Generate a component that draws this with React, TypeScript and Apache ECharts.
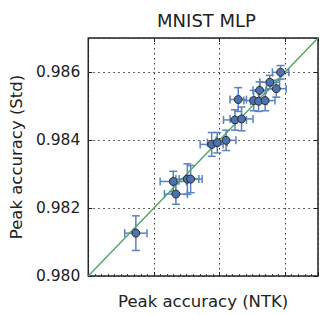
import React, { useEffect, useRef } from "react";
import * as echarts from "echarts";

const title = "MNIST MLP";
const xName = "Peak accuracy (NTK)";
const yName = "Peak accuracy (Std)";
const axisMin = 0.98;
const axisMax = 0.987;
const tickStep = 0.002;

// Peak accuracy with NTK parameterisation (x), standard (y), and their error half-widths
const ntkAcc = [0.98586, 0.98553, 0.98573, 0.98522, 0.98457, 0.98504, 0.98519, 0.98539, 0.98447, 0.98467, 0.98376, 0.98393, 0.9842, 0.98259, 0.98267, 0.98302, 0.98312, 0.98145];
const stdAcc = [0.98599, 0.9857, 0.98551, 0.98546, 0.98519, 0.98516, 0.98514, 0.98516, 0.98459, 0.98462, 0.98387, 0.98392, 0.98399, 0.98278, 0.98241, 0.98285, 0.98285, 0.98126];
const ntkErr = [0.00025, 0.0003, 0.0003, 0.0002, 0.00025, 0.0003, 0.00025, 0.0003, 0.00035, 0.00035, 0.00035, 0.0003, 0.0003, 0.0004, 0.00035, 0.00035, 0.00035, 0.00034];
const stdErr = [0.0002, 0.0002, 0.00025, 0.00025, 0.00035, 0.0003, 0.0003, 0.0003, 0.0003, 0.00035, 0.00035, 0.0003, 0.0003, 0.0003, 0.0003, 0.00045, 0.0004, 0.00051];

const FONT = "DejaVu Sans";

export default function App() {
  const ref = useRef<HTMLDivElement>(null);
  useEffect(() => {
    const chart = echarts.init(ref.current!, null, { renderer: "svg" });
    const errData = ntkAcc.map((x, i) => [x, stdAcc[i], ntkErr[i], stdErr[i]]);
    const pts = ntkAcc.map((x, i) => [x, stdAcc[i]]);
    const barColor = "#5a82c2";
    chart.setOption({
      animation: false,
      title: {
        text: title,
        left: 201.5,
        textAlign: "center",
        top: 6,
        textStyle: { fontFamily: FONT, fontSize: 18, fontWeight: "normal", color: "#222" },
      },
      grid: {
        left: 85,
        right: 9,
        top: 38,
        bottom: 38,
        show: true,
        borderColor: "#222",
        borderWidth: 1.5,
        backgroundColor: "#fff",
      },
      xAxis: [
        {
          type: "value",
          min: axisMin,
          max: axisMax,
          interval: tickStep,
          name: xName,
          nameLocation: "middle",
          nameGap: 17,
          nameTextStyle: { fontFamily: FONT, fontSize: 16.5, color: "#222" },
          axisLine: { show: false },
          axisTick: { show: true, inside: true, length: 4, lineStyle: { color: "#222", width: 1 } },
          minorTick: { show: true, splitNumber: 10, length: 2, lineStyle: { color: "#222", width: 0.8 } },
          axisLabel: { show: false },
          splitLine: { show: true, lineStyle: { color: "#333", type: [1.5, 3.5], width: 1 } },
        },
        {
          type: "value",
          position: "top",
          min: axisMin,
          max: axisMax,
          interval: tickStep,
          axisLine: { show: false },
          axisTick: { show: true, inside: true, length: 4, lineStyle: { color: "#222", width: 1 } },
          axisLabel: { show: false },
          splitLine: { show: false },
        },
      ],
      yAxis: [
        {
          type: "value",
          min: axisMin,
          max: axisMax,
          interval: tickStep,
          name: yName,
          nameLocation: "middle",
          nameGap: 62,
          nameTextStyle: { fontFamily: FONT, fontSize: 16.5, color: "#222" },
          axisLine: { show: false },
          axisTick: { show: true, inside: true, length: 4, lineStyle: { color: "#222", width: 1 } },
          axisLabel: {
            show: true,
            fontFamily: FONT,
            fontSize: 15.5,
            color: "#222",
            margin: 8,
            showMaxLabel: false,
            formatter: (v: number) => v.toFixed(3),
          },
          splitLine: { show: true, lineStyle: { color: "#333", type: [1.5, 3.5], width: 1 } },
        },
        {
          type: "value",
          position: "right",
          min: axisMin,
          max: axisMax,
          interval: tickStep,
          axisLine: { show: false },
          axisTick: { show: true, inside: true, length: 4, lineStyle: { color: "#222", width: 1 } },
          axisLabel: { show: false },
          splitLine: { show: false },
        },
      ],
      series: [
        {
          type: "custom",
          xAxisIndex: 0,
          yAxisIndex: 0,
          z: 2,
          data: errData,
          renderItem: (params: any, api: any) => {
            const x = api.value(0);
            const y = api.value(1);
            const ex = api.value(2);
            const ey = api.value(3);
            const l = api.coord([x - ex, y]);
            const r = api.coord([x + ex, y]);
            const t = api.coord([x, y + ey]);
            const b = api.coord([x, y - ey]);
            const cap = 4;
            const style = { stroke: barColor, lineWidth: 1.5, fill: "none" };
            return {
              type: "group",
              children: [
                { type: "line", shape: { x1: l[0], y1: l[1], x2: r[0], y2: r[1] }, style },
                { type: "line", shape: { x1: t[0], y1: t[1], x2: b[0], y2: b[1] }, style },
                { type: "line", shape: { x1: l[0], y1: l[1] - cap, x2: l[0], y2: l[1] + cap }, style },
                { type: "line", shape: { x1: r[0], y1: r[1] - cap, x2: r[0], y2: r[1] + cap }, style },
                { type: "line", shape: { x1: t[0] - cap, y1: t[1], x2: t[0] + cap, y2: t[1] }, style },
                { type: "line", shape: { x1: b[0] - cap, y1: b[1], x2: b[0] + cap, y2: b[1] }, style },
              ],
            };
          },
        },
        {
          type: "line",
          z: 3,
          data: [
            [axisMin, axisMin],
            [axisMax, axisMax],
          ],
          symbol: "none",
          lineStyle: { color: "#55A868", width: 1.5 },
        },
        {
          type: "scatter",
          z: 4,
          data: pts,
          symbol: "circle",
          symbolSize: 8,
          itemStyle: { color: "#4C72B0", borderColor: "#2b2b2b", borderWidth: 1, opacity: 1 },
        },
      ],
    });
    return () => chart.dispose();
  }, []);
  return <div ref={ref} style={{ width: 327, height: 315, position: "absolute", left: 0, top: 0 }} />;
}
